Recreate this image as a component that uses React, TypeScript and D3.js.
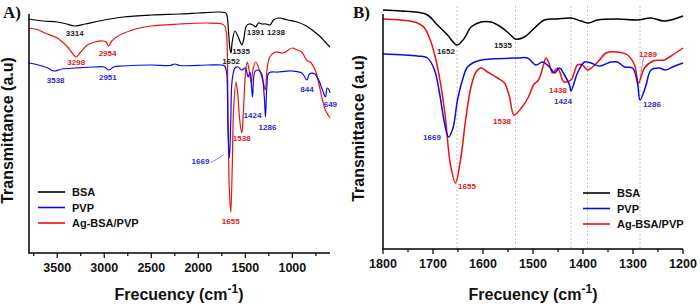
import React from "react";
import * as d3 from "d3";

// ---------- Panel A data (wavenumber cm-1, transmittance a.u.) ----------
const bsaA_freq = [3800,3650,3500,3400,3314,3200,3000,2800,2500,2200,2000,1800,1720,1700,1680,1665,1652,1640,1610,1580,1550,1535,1515,1490,1460,1420,1391,1360,1320,1280,1238,1200,1150,1050,950,850,750,700,650,600];
const bsaA_val = [234,232,231,229,227,229,233,236,238,239,240,241,240.5,239,223,205,200,211,222,217,210,208,215,227,229,228,226,230,229,229,228,233,235,233,231,227,220,216,211,206];

const agA_freq = [3800,3700,3630,3500,3470,3400,3340,3298,3250,3180,3100,3020,2980,2954,2920,2870,2700,2500,2200,1900,1750,1720,1700,1685,1670,1655,1640,1625,1600,1580,1560,1538,1520,1500,1480,1460,1438,1420,1390,1350,1310,1289,1270,1240,1180,1100,1000,950,900,850,800,750,720,680,650,620,600];
const agA_val = [225,223,220,215,213,207,200,196,201,208,211,212,211,207,212,216,223,227,229,230,229,227,218,143,63,41,83,143,171,158,133,120,143,178,191,183,170,183,191,183,171,163,183,196,201,200,205,203,201,193,190,181,170,153,143,138,135];

const pvpA_freq = [3800,3700,3600,3538,3450,3300,3100,3000,2951,2900,2800,2500,2300,2250,2200,1900,1750,1720,1700,1685,1669,1655,1640,1610,1580,1540,1500,1470,1450,1424,1400,1370,1330,1300,1286,1270,1250,1150,1000,900,844,820,760,720,680,649,630,610,600];
const pvpA_val = [190,188,185,182,184,185,186,186,183,186,187,188,187.5,189,187.5,188,188,187,181,123,95,133,173,185,186,183,185,176,181,156,181,183,180,158,136,168,180,181,182,180,173,179,179,173,163,156,165,163,160];

// ---------- Panel B data ----------
const bsaB_freq = [1800,1765,1731,1711,1691,1671,1652,1637,1624,1604,1584,1564,1547,1535,1517,1497,1477,1451,1424,1404,1389,1371,1331,1291,1264,1237,1200];
const bsaB_val = [239,238,236.7,234,224,214,204,211,222,227,227,222,215,210,212,221,229,230,231,228,226,229,230,229,231,228,233];

const agB_freq = [1800,1765,1731,1717,1704,1691,1677,1665,1655,1645,1634,1624,1614,1604,1591,1571,1557,1547,1538,1522,1509,1499,1489,1479,1474,1468,1461,1451,1441,1438,1424,1411,1401,1391,1381,1367,1354,1331,1311,1297,1289,1277,1260,1237,1227,1200];
const agB_val = [230,229,226,221,207,182,139,84,66,89,132,162,177,181,177,171,166,152,134,142,152,164,169,184,191,186,176,181,169,167,169,184,184,179,182,189,196,197,194,184,166,181,188,189,192,201];

const pvpB_freq = [1800,1731,1711,1697,1687,1677,1669,1660,1651,1641,1631,1611,1584,1531,1511,1494,1481,1467,1457,1447,1437,1427,1424,1411,1397,1384,1367,1344,1331,1317,1301,1291,1286,1275,1264,1248,1235,1221,1200];
const pvpB_val = [195,193,191,179,156,126,112,121,149,169,182,188,190,191,191,184,187,182,176,181,174,164,158,176,187,186,183,187,187,182,181,166,149,162,179,181,179,182,186];

// ---------- Labels ----------
const seriesNames = ["BSA", "PVP", "Ag-BSA/PVP"];
const seriesColors = ["#000000", "#0a0af0", "#f01010"];
const ticksA = [3500, 3000, 2500, 2000, 1500, 1000];
const minorA = [3750, 3250, 2750, 2250, 1750, 1250, 750];
const ticksB = [1800, 1700, 1600, 1500, 1400, 1300, 1200];
const minorB = [1750, 1650, 1550, 1450, 1350, 1250];
const dashedB = [1652, 1535, 1424, 1391, 1286];

// peak annotations
const annA_text = ["3314","3298","2954","3538","2951","1652","1535","1391","1238","1424","1286","1538","844","649","1655","1669"];
const annA_freq = [3314,3298,2954,3538,2951,1652,1535,1391,1238,1424,1286,1538,844,649,1655,1669];
const annA_val = [217,188,197,170,173,189,199,218,218,135,123,112,161,146,29,89];
const annA_series = [0,2,2,1,1,0,0,0,0,1,1,2,1,1,2,1];

const annB_text = ["1652","1535","1669","1538","1438","1424","1286","1289","1655"];
const annB_freq = [1652,1535,1669,1538,1438,1424,1286,1289,1655];
const annB_val = [195,201,109,125,156,145,142,192,60];
const annB_series = [0,0,1,2,2,1,1,2,2];

const FONT = "'Liberation Sans', Arial, sans-serif";

type PanelProps = {
  left: number; right: number; top: number; bottom: number;
  domainX: [number, number]; domainY: [number, number];
  series: { f: number[]; v: number[] }[];
  ticks: number[]; minor: number[];
  ann: { t: string[]; f: number[]; v: number[]; s: number[] };
  label: string; labelX: number;
  legendX: number; legendY: number;
  yTitleX: number; titleX: number; tickLabelY: number; titleY: number;
  dashed?: number[];
  lw: number;
  annDx?: number[];
};

function Panel(p: PanelProps) {
  const x = d3.scaleLinear().domain(p.domainX).range([p.left, p.right]);
  const y = d3.scaleLinear().domain(p.domainY).range([p.bottom, p.top]);
  const line = d3.line<[number, number]>()
    .x((d) => x(d[0]))
    .y((d) => y(d[1]))
    .curve(d3.curveCatmullRom.alpha(0.5));
  const order = [0, 2, 1];
  return (
    <g>
      {p.dashed && p.dashed.map((f, i) => (
        <line key={"d" + i} x1={x(f)} x2={x(f)} y1={p.top - 2} y2={p.bottom}
          stroke="#c4c4c4" strokeWidth={1} strokeDasharray="2,2" />
      ))}
      {order.map((si) => {
        const s = p.series[si];
        const pts = s.f.map((f, i) => [f, s.v[i]] as [number, number]);
        return <path key={si} d={line(pts) || ""} fill="none" stroke={seriesColors[si]}
          strokeWidth={p.lw} strokeLinejoin="round" />;
      })}
      {/* axes */}
      <line x1={p.left} x2={p.left} y1={p.top + 6} y2={p.bottom} stroke="#000" strokeWidth={1.5} />
      <line x1={p.left - 0.75} x2={p.right} y1={p.bottom} y2={p.bottom} stroke="#000" strokeWidth={1.5} />
      {p.ticks.map((t) => (
        <g key={"t" + t}>
          <line x1={x(t)} x2={x(t)} y1={p.bottom} y2={p.bottom + 5} stroke="#000" strokeWidth={1.2} />
          <text x={x(t)} y={p.tickLabelY} textAnchor="middle" fontFamily={FONT}
            fontWeight="bold" fontSize={12.5} fill="#111">{t}</text>
        </g>
      ))}
      {p.minor.map((t) => (
        <line key={"m" + t} x1={x(t)} x2={x(t)} y1={p.bottom} y2={p.bottom + 3} stroke="#000" strokeWidth={1.2} />
      ))}
      {/* annotations */}
      {p.ann.t.map((t, i) => (
        <text key={"a" + i} x={x(p.ann.f[i]) + (p.annDx ? p.annDx[i] : 0)} y={y(p.ann.v[i])}
          textAnchor="middle" fontFamily={FONT} fontWeight="bold" fontSize={8}
          fill={p.ann.s[i] === 0 ? "#222" : p.ann.s[i] === 1 ? "#2b2bd8" : "#e02020"}>{t}</text>
      ))}
      {/* legend */}
      {seriesNames.map((n, i) => (
        <g key={"l" + n}>
          <line x1={p.legendX} x2={p.legendX + 27} y1={p.legendY + i * 15.5} y2={p.legendY + i * 15.5}
            stroke={seriesColors[i]} strokeWidth={1.6} />
          <text x={p.legendX + 34} y={p.legendY + i * 15.5 + 4} fontFamily={FONT} fontWeight="bold"
            fontSize={11} fill="#111">{n}</text>
        </g>
      ))}
      {/* titles */}
      <text x={p.titleX} y={p.titleY} textAnchor="middle" fontFamily={FONT} fontWeight="bold" fontSize={16} fill="#111">
        Frecuency (cm<tspan dy={-7} fontSize={12}>-1</tspan><tspan dy={7}>)</tspan>
      </text>
      <text transform={`translate(${p.yTitleX},${(p.top + p.bottom) / 2}) rotate(-90)`} textAnchor="middle"
        fontFamily={FONT} fontWeight="bold" fontSize={16} fill="#111">Transmittance (a.u)</text>
      <text x={p.labelX} y={18} fontFamily="'Liberation Serif', 'Times New Roman', serif" fontWeight="bold"
        fontSize={17} fill="#111">{p.label}</text>
    </g>
  );
}

export default function App() {
  const xA = d3.scaleLinear().domain([3800, 600]).range([29, 330]);
  const yA = d3.scaleLinear().domain([0, 245]).range([253, 8]);
  const xB = d3.scaleLinear().domain([1800, 1200]).range([383, 683]);
  const yB = d3.scaleLinear().domain([0, 241]).range([249, 8]);
  return (
    <svg width={700} height={307} style={{ position: "absolute", left: 0, top: 0, background: "#fff" }}>
      <Panel left={29} right={330} top={8} bottom={253} domainX={[3800, 600]} domainY={[0, 245]}
        series={[{ f: bsaA_freq, v: bsaA_val }, { f: pvpA_freq, v: pvpA_val }, { f: agA_freq, v: agA_val }]}
        ticks={ticksA} minor={minorA}
        ann={{ t: annA_text, f: annA_freq, v: annA_val, s: annA_series }}
        annDx={[0,0,-1,2,-1,0,-1,0,6,0,2,0,0,5,0,-29]}
        label="A)" labelX={3} legendX={38} legendY={192}
        yTitleX={13} titleX={179} tickLabelY={272} titleY={300} lw={1.2} />
      {/* leader line for 1669 in A */}
      <line x1={xA(1669) - 19} y1={yA(90)} x2={xA(1669) - 6} y2={yA(98)} stroke="#6a6ad0" strokeWidth={0.8} />
      <Panel left={383} right={683} top={8} bottom={249} domainX={[1800, 1200]} domainY={[0, 241]}
        series={[{ f: bsaB_freq, v: bsaB_val }, { f: pvpB_freq, v: pvpB_val }, { f: agB_freq, v: agB_val }]}
        ticks={ticksB} minor={minorB}
        ann={{ t: annB_text, f: annB_freq, v: annB_val, s: annB_series }}
        annDx={[-11,-12.5,-16.5,-12,-6,-8,12,9.5,11.5]}
        label="B)" labelX={353} legendX={583} legendY={193}
        yTitleX={364} titleX={533} tickLabelY={268} titleY={300} dashed={dashedB} lw={1.5} />
      {/* leader line for 1289 in B */}
      <line x1={xB(1289) + 5} y1={yB(192)} x2={xB(1289) + 2} y2={yB(172)} stroke="#777" strokeWidth={0.8} />
    </svg>
  );
}
